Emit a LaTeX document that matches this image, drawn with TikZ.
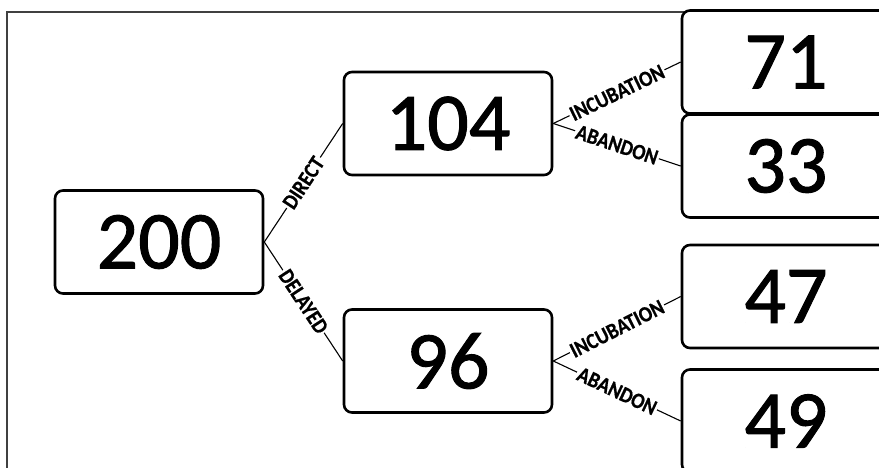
\documentclass[tikz,border=0pt]{standalone}
\usepackage{fontspec}
\setmainfont{Carlito}
\newfontfamily\countfont[FakeBold=1.2]{Carlito}
\newfontfamily\tagfont[FakeBold=0.7,FakeStretch=0.88]{Carlito Bold}
\begin{document}
\begin{tikzpicture}[x=1pt,y=-1pt,
  countbox/.style={draw=black, line width=2.6pt, rounded corners=8pt, fill=white,
    minimum width=208pt, minimum height=103pt, inner sep=0pt,
    font=\countfont\fontsize{82}{82}\selectfont},
  branch/.style={line width=1.1pt, black},
  tag/.style={sloped, fill=white, inner sep=1.5pt, font=\tagfont\fontsize{22}{22}\selectfont}]
\useasboundingbox (0,0) rectangle (879,468);
\begin{scope}
\clip (0,0) rectangle (879,468);
% outer frame
\draw[line width=2pt, black!75] (7,12) rectangle (920,500);
% counts
\node[countbox] (n200) at (159,242) {200};
\node[countbox] (n104) at (448,123.5) {104};
\node[countbox] (n96)  at (448,361) {96};
\node[countbox] (n71)  at (786,62) {71};
\node[countbox] (n33)  at (786,166) {33};
\node[countbox] (n47)  at (786,296.5) {47};
\node[countbox] (n49)  at (786,421) {49};
% branches
\draw[branch] (n200.east) -- node[tag] {DIRECT} (n104.west);
\draw[branch] (n200.east) -- node[tag] {DELAYED} (n96.west);
\draw[branch] (n104.east) -- node[tag] {INCUBATION} (n71.west);
\draw[branch] (n104.east) -- node[tag] {ABANDON} (n33.west);
\draw[branch] (n96.east) -- node[tag] {INCUBATION} (n47.west);
\draw[branch] (n96.east) -- node[tag] {ABANDON} (n49.west);
\end{scope}
\end{tikzpicture}
\end{document}
